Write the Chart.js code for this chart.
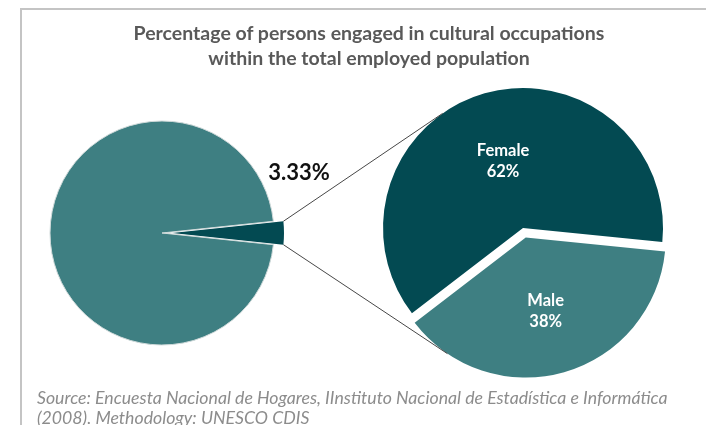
<!DOCTYPE html>
<html><head><meta charset="utf-8">
<script src="https://cdn.jsdelivr.net/npm/chart.js@4.4.1/dist/chart.umd.min.js"></script>
<style>
html,body{margin:0;padding:0;background:#fff;width:706px;height:425px;overflow:hidden}
#wrap{position:relative;width:706px;height:425px}
#frame{position:absolute;left:20px;top:8px;width:720px;height:440px;border-top:2px solid #c4c4c4;border-left:2px solid #c4c4c4}
canvas{position:absolute;left:0;top:0}
#title{position:absolute;left:19px;width:700px;top:20px;text-align:center;font:bold 19.5px Lato,sans-serif;line-height:25px;color:#595959}
#source{position:absolute;left:37px;top:388px;font:italic 17.7px Lato,sans-serif;line-height:20px;color:#8c8c8c;white-space:nowrap}
</style></head>
<body><div id="wrap"><div id="frame"></div>
<canvas id="c1" width="706" height="425"></canvas>
<canvas id="c2" width="706" height="425"></canvas>
<div id="title"></div><div id="source"></div></div>
<script>
// ---- data ----
const titleLines = ['Percentage of persons engaged in cultural occupations', 'within the total employed population'];
const sourceLines = ['Source: Encuesta Nacional de Hogares, IInstituto Nacional de Estadística e Informática', '(2008). Methodology: UNESCO CDIS'];
const mainCategories = ['Cultural occupations', 'Other occupations'];
const mainValues = [3.33, 96.67];
const mainLabels = ['3.33%', ''];
const sexCategories = ['Female', 'Male'];
const sexValues = [62, 38];

document.getElementById('title').innerHTML = titleLines.join('<br>');
document.getElementById('source').innerHTML = sourceLines.join('<br>');

const LIGHT = '#3e7f82';
const DARK = '#034a52';

// shift exploded slices outward along their mid angle
const explodePlugin = {
  id: 'explode',
  afterDatasetsUpdate(chart, args, opts) {
    const meta = chart.getDatasetMeta(0);
    meta.data.forEach((el, i) => {
      const d = (opts.amounts || [])[i] || 0;
      if (!d) return;
      const mid = (el.startAngle + el.endAngle) / 2;
      el.x += Math.cos(mid) * d;
      el.y += Math.sin(mid) * d;
    });
  }
};

const mainLabelPlugin = {
  id: 'mainLabel',
  afterDatasetsDraw(chart) {
    const ctx = chart.ctx;
    const meta = chart.getDatasetMeta(0);
    meta.data.forEach((el, i) => {
      if (!mainLabels[i]) return;
      const mid = (el.startAngle + el.endAngle) / 2;
      const x = el.x + el.outerRadius * Math.cos(mid) + 15;
      const y = el.y + el.outerRadius * Math.sin(mid) - 60;
      ctx.save();
      ctx.font = 'bold 22px Lato, sans-serif';
      ctx.fillStyle = '#111';
      ctx.textAlign = 'center';
      ctx.textBaseline = 'middle';
      ctx.fillText(mainLabels[i], x, y);
      ctx.restore();
    });
  }
};

const chart1 = new Chart(document.getElementById('c1'), {
  type: 'pie',
  data: {
    labels: mainCategories,
    datasets: [{
      data: mainValues,
      backgroundColor: [DARK, LIGHT],
      borderColor: ['#d0dada', '#d0dada'],
      borderWidth: [0, 1],
      radius: 112
    }]
  },
  options: {
    responsive: false,
    animation: false,
    rotation: 84,
    layout: { padding: { left: 22, right: 404, top: 93, bottom: 52 } },
    plugins: { legend: { display: false }, tooltip: { enabled: false }, explode: { amounts: [10, 0] } },
    events: []
  },
  plugins: [explodePlugin, mainLabelPlugin]
});

const sexLabelPlugin = {
  id: 'sexLabels',
  afterDatasetsDraw(chart) {
    const ctx = chart.ctx;
    const meta = chart.getDatasetMeta(0);
    ctx.save();
    ctx.font = 'bold 16.5px Lato, sans-serif';
    ctx.fillStyle = '#ffffff';
    ctx.textAlign = 'center';
    ctx.textBaseline = 'middle';
    meta.data.forEach((el, i) => {
      const mid = (el.startAngle + el.endAngle) / 2;
      const r = el.outerRadius * 0.52;
      const x = el.x + r * Math.cos(mid);
      const y = el.y + r * Math.sin(mid);
      ctx.fillText(sexCategories[i], x, y - 7);
      ctx.fillText(sexValues[i] + '%', x, y + 14);
    });
    ctx.restore();
  }
};

const connectorPlugin = {
  id: 'connectors',
  afterDraw(chart) {
    const ctx = chart.ctx;
    const sEl = chart1.getDatasetMeta(0).data[0];
    const r = sEl.outerRadius;
    const p1 = { x: sEl.x + r * Math.cos(sEl.startAngle), y: sEl.y + r * Math.sin(sEl.startAngle) };
    const p2 = { x: sEl.x + r * Math.cos(sEl.endAngle), y: sEl.y + r * Math.sin(sEl.endAngle) };
    const meta = chart.getDatasetMeta(0);
    const topEl = meta.data[0], botEl = meta.data[1];
    const a1 = -125 * Math.PI / 180, a2 = 124 * Math.PI / 180;
    const q1 = { x: topEl.x + topEl.outerRadius * Math.cos(a1), y: topEl.y + topEl.outerRadius * Math.sin(a1) };
    const q2 = { x: botEl.x + botEl.outerRadius * Math.cos(a2), y: botEl.y + botEl.outerRadius * Math.sin(a2) };
    ctx.save();
    ctx.strokeStyle = '#474747';
    ctx.lineWidth = 1;
    ctx.beginPath();
    ctx.moveTo(p1.x, p1.y); ctx.lineTo(q1.x, q1.y);
    ctx.moveTo(p2.x, p2.y); ctx.lineTo(q2.x, q2.y);
    ctx.stroke();
    ctx.restore();
  }
};

const chart2 = new Chart(document.getElementById('c2'), {
  type: 'pie',
  data: {
    labels: sexCategories,
    datasets: [{
      data: sexValues,
      backgroundColor: [DARK, LIGHT],
      borderWidth: 0,
      radius: 140
    }]
  },
  options: {
    responsive: false,
    animation: false,
    rotation: 232.5,
    layout: { padding: { left: 363, right: 23, top: 68, bottom: 37 } },
    plugins: { legend: { display: false }, tooltip: { enabled: false }, explode: { amounts: [0, 10] } },
    events: []
  },
  plugins: [explodePlugin, sexLabelPlugin, connectorPlugin]
});
</script>
</body></html>
